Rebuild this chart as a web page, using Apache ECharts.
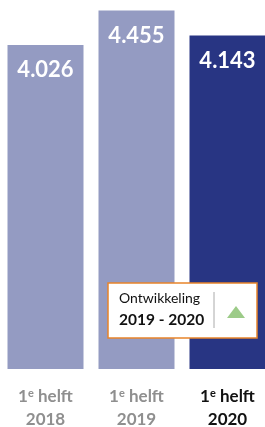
<!DOCTYPE html>
<html>
<head>
	<meta charset="utf-8">
	<title>Ontwikkeling</title>
	<script src="https://cdn.jsdelivr.net/npm/echarts@6/dist/echarts.min.js"></script>
	<style>
		html, body { margin:0; padding:0; background:#fff; }
		#box { width:265px; height:427px; }
	</style>
</head>
<body>
	<div id="box"></div>
<script type="text/javascript">
	var periods = ['1e helft', '1e helft', '1e helft'];
	var years = ['2018', '2019', '2020'];
	var values = [4026, 4455, 4143];
	var bar_colors = ['#949bc2', '#949bc2', '#283583'];

	//getal met punt als duizendtal
	function fmt(v){
		return String(v).replace(/\B(?=(\d{3})+(?!\d))/g, '.');
	}

	var cats = years.map(function(y, i){ return i + '|' + y; });

	var option = {
		animation: false,
		grid: { left: 0, right: -8, top: 0, bottom: 58, outerBoundsMode: 'none' },
		xAxis: {
			type: 'category',
			data: cats,
			axisLine: { show: false },
			axisTick: { show: false },
			axisLabel: {
				margin: 16,
				interval: 0,
				lineHeight: 23,
				formatter: function(val){
					var i = +val.split('|')[0];
					var k = i == 2 ? 'd' : 'g';
					return '{' + k + '1|1}{' + k + 's|e}{' + k + '1| helft}\n{' + k + '1|' + years[i] + '}';
				},
				rich: {
					g1: { fontFamily: 'Lato', fontWeight: 'bold', fontSize: 17, color: '#8f8f8f', lineHeight: 23 },
					gs: { fontFamily: 'Lato', fontWeight: 'bold', fontSize: 11, color: '#8f8f8f', lineHeight: 23, padding: [0, 0, 6, 0] },
					d1: { fontFamily: 'Lato', fontWeight: 'bold', fontSize: 17, color: '#111', lineHeight: 23 },
					ds: { fontFamily: 'Lato', fontWeight: 'bold', fontSize: 11, color: '#111', lineHeight: 23, padding: [0, 0, 6, 0] }
				}
			}
		},
		yAxis: {
			type: 'value', min: 0, max: 4585,
			show: false, splitLine: { show: false }
		},
		series: [{
			type: 'bar',
			barWidth: 76,
			data: values.map(function(v, i){
				return { value: v, itemStyle: { color: bar_colors[i] } };
			}),
			label: {
				show: true,
				position: 'insideTop',
				distance: 14,
				color: '#fff',
				fontFamily: 'Lato',
				fontWeight: 'bold',
				fontSize: 22,
				formatter: function(p){ return fmt(p.value); }
			}
		}],
		graphic: [
			{ type: 'rect', z: 100, zlevel: 1, shape: { x: 108, y: 283, width: 149, height: 55 },
				style: { fill: '#fff', stroke: '#e8842a', lineWidth: 1.5 } },
			{ type: 'text', z: 101, zlevel: 1, x: 119, y: 298,
				style: { text: 'Ontwikkeling', fontFamily: 'Lato', fontSize: 14, fill: '#111', verticalAlign: 'middle' } },
			{ type: 'text', z: 101, zlevel: 1, x: 119, y: 320,
				style: { text: '2019 - 2020', fontFamily: 'Lato', fontWeight: 'bold', fontSize: 15.5, fill: '#111', verticalAlign: 'middle' } },
			{ type: 'line', z: 101, zlevel: 1, shape: { x1: 214, y1: 292, x2: 214, y2: 328 },
				style: { stroke: '#aaa', lineWidth: 1 } },
			{ type: 'polygon', z: 101, zlevel: 1, shape: { points: [[227, 318], [245, 318], [236, 306]] },
				style: { fill: '#9ccb88' } }
		]
	};

	var myChart = echarts.init(document.getElementById('box'));
	myChart.setOption(option);
</script>
</body>
</html>
